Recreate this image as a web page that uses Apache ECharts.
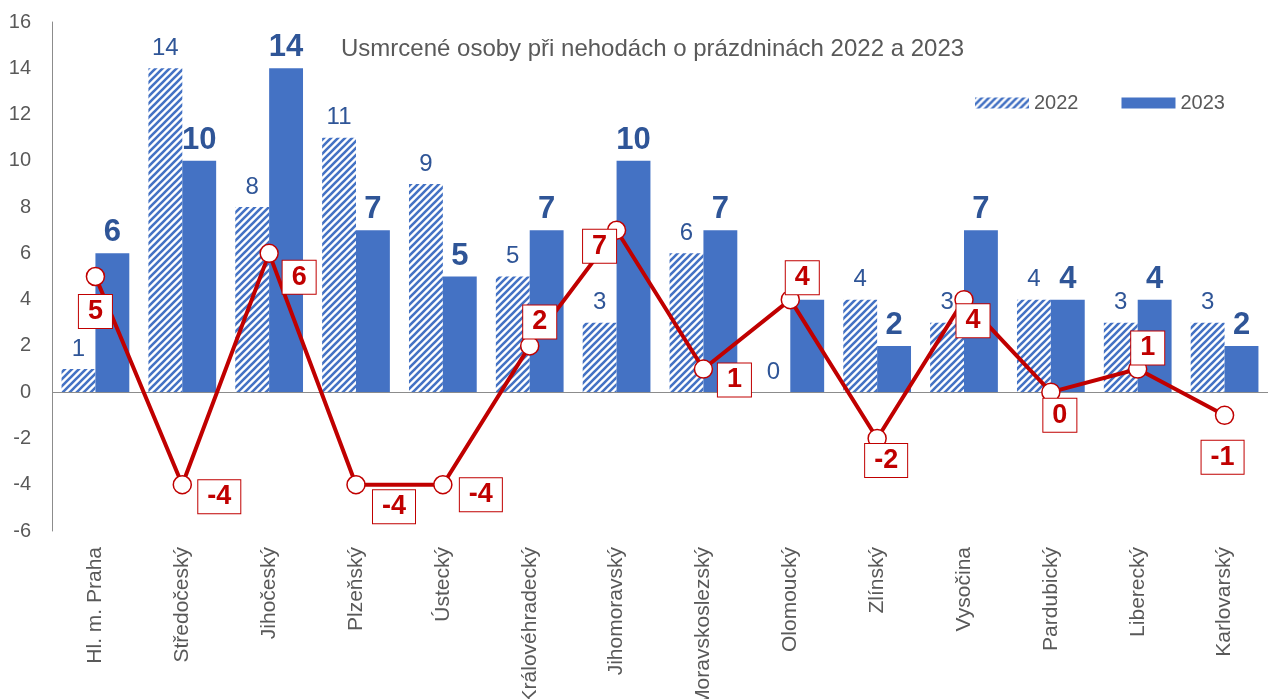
<!DOCTYPE html>
<html>
<head>
<meta charset="utf-8">
<script src="https://cdn.jsdelivr.net/npm/echarts@6/dist/echarts.min.js"></script>
<style>
  html, body { margin: 0; padding: 0; background: #fff; }
  #chart { width: 1270px; height: 699px; }
</style>
</head>
<body>
<div id="chart"></div>
<script>
// data
const regions = ['Hl. m. Praha', 'Středočeský', 'Jihočeský', 'Plzeňský', 'Ústecký', 'Královéhradecký',
  'Jihomoravský', 'Moravskoslezský', 'Olomoucký', 'Zlínský', 'Vysočina', 'Pardubický', 'Liberecký', 'Karlovarský']
const deaths2022 = [1, 14, 8, 11, 9, 5, 3, 6, 0, 4, 3, 4, 3, 3]
const deaths2023 = [6, 10, 14, 7, 5, 7, 10, 7, 4, 2, 7, 4, 4, 2]
const difference = [5, -4, 6, -4, -4, 2, 7, 1, 4, -2, 4, 0, 1, -1]

// where each difference box sits relative to its point (layout only)
const diffLabelOffsets = [[0, 35], [37, 12], [30, 24], [38, 22], [38, 10], [10, -24], [-17, 16],
  [31, 11], [12, -22], [9, 22], [9, 21], [9, 23], [10, -21], [-2, 42]]

const FONT = 'Liberation Sans, Arial, sans-serif'
const BLUE = '#4472c4'
const RED = '#c00000'

// hatched fill for 2022
function makeHatch() {
  const c = document.createElement('canvas')
  const s = 7
  c.width = s
  c.height = s
  const ctx = c.getContext('2d')
  ctx.fillStyle = '#fff'
  ctx.fillRect(0, 0, s, s)
  ctx.strokeStyle = BLUE
  ctx.lineWidth = 2.6
  ctx.beginPath()
  for (let k = -1; k <= 1; k++) {
    ctx.moveTo(k * s - 1, s + 1)
    ctx.lineTo(k * s + s + 1, -1)
  }
  ctx.stroke()
  return c
}

const chart = echarts.init(document.getElementById('chart'))
chart.setOption({
  animation: false,
  title: {
    text: 'Usmrcené osoby při nehodách o prázdninách 2022 a 2023',
    left: 336,
    top: 32,
    textStyle: { fontFamily: FONT, fontSize: 24, fontWeight: 'normal', color: '#595959' }
  },
  legend: {
    data: ['2022', '2023'],
    left: 970,
    top: 88,
    icon: 'rect',
    itemWidth: 54,
    itemHeight: 11,
    itemGap: 43,
    textStyle: { fontFamily: FONT, fontSize: 20, color: '#595959' }
  },
  grid: { left: 52, right: 2, top: 22, bottom: 168, containLabel: false, outerBoundsMode: 'none' },
  xAxis: {
    type: 'category',
    data: regions,
    axisLine: { show: false, onZero: false },
    axisTick: { show: false },
    axisLabel: {
      rotate: 90,
      interval: 0,
      margin: 16,
      fontFamily: FONT,
      fontSize: 21,
      color: '#595959'
    }
  },
  yAxis: {
    type: 'value',
    min: -6,
    max: 16,
    interval: 2,
    axisLine: { show: true, lineStyle: { color: '#8c8c8c', width: 1 } },
    axisTick: { show: false },
    splitLine: { show: false },
    axisLabel: { margin: 21, fontFamily: FONT, fontSize: 20, color: '#595959' }
  },
  series: [
    {
      name: '2022',
      type: 'bar',
      data: deaths2022,
      barGap: '0%',
      barCategoryGap: '22%',
      itemStyle: { color: { image: makeHatch(), repeat: 'repeat' } },
      label: {
        show: true,
        position: 'top',
        distance: 8,
        fontFamily: FONT,
        fontSize: 24,
        color: '#2f5597'
      },
      markLine: {
        silent: true,
        symbol: 'none',
        label: { show: false },
        lineStyle: { color: '#8c8c8c', width: 1, type: 'solid' },
        data: [{ yAxis: 0 }]
      }
    },
    {
      name: '2023',
      type: 'bar',
      data: deaths2023,
      itemStyle: { color: BLUE },
      label: {
        show: true,
        position: 'top',
        distance: 5,
        fontFamily: FONT,
        fontSize: 31,
        fontWeight: 'bold',
        color: '#2f5597'
      }
    },
    {
      name: 'rozdíl',
      type: 'line',
      z: 5,
      data: difference.map((v, i) => ({
        value: v,
        label: { offset: diffLabelOffsets[i] }
      })),
      lineStyle: { color: RED, width: 4 },
      symbol: 'circle',
      symbolSize: 18,
      itemStyle: { color: '#fff', borderColor: RED, borderWidth: 1.5 },
      label: {
        show: true,
        position: 'inside',
        fontFamily: FONT,
        fontSize: 27,
        fontWeight: 'bold',
        color: RED,
        backgroundColor: '#fff',
        borderColor: RED,
        borderWidth: 1,
        padding: [4, 9, 2, 9]
      }
    }
  ]
})
</script>
</body>
</html>
